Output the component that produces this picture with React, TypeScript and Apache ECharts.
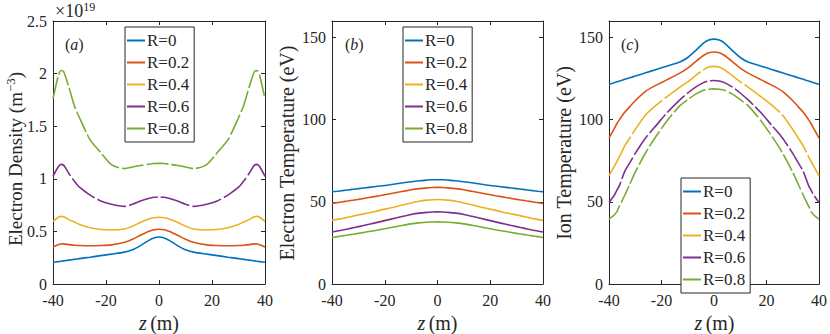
import React, { useEffect, useRef } from "react";
import * as echarts from "echarts";

const Z = [-40, -38, -37, -36, -34, -32, -30, -26, -22, -18, -13, -10, -7, -4, -2, 0, 2, 4, 7, 10, 13, 18, 22, 26, 30, 32, 34, 36, 37, 38, 40];

const NAMES = ["R=0", "R=0.2", "R=0.4", "R=0.6", "R=0.8"];
const COLORS = ["#0072BD", "#D95319", "#EDB120", "#7E2F8E", "#77AC30"];

// (a) electron density, units of 1e19 m^-3
const A_R0 = [0.206, 0.213, 0.216, 0.22, 0.227, 0.234, 0.241, 0.255, 0.27, 0.284, 0.303, 0.325, 0.365, 0.412, 0.437, 0.447, 0.437, 0.412, 0.365, 0.325, 0.303, 0.284, 0.27, 0.255, 0.241, 0.234, 0.227, 0.22, 0.216, 0.213, 0.206];
const A_R2 = [0.352, 0.374, 0.38, 0.381, 0.374, 0.369, 0.366, 0.364, 0.366, 0.372, 0.396, 0.425, 0.463, 0.498, 0.515, 0.521, 0.515, 0.498, 0.463, 0.425, 0.396, 0.372, 0.366, 0.364, 0.366, 0.369, 0.374, 0.381, 0.38, 0.374, 0.352];
const A_R4 = [0.596, 0.635, 0.643, 0.64, 0.612, 0.59, 0.565, 0.535, 0.518, 0.514, 0.523, 0.55, 0.585, 0.615, 0.629, 0.634, 0.629, 0.615, 0.585, 0.55, 0.523, 0.514, 0.518, 0.535, 0.565, 0.59, 0.612, 0.64, 0.643, 0.635, 0.596];
const A_R6 = [1.024, 1.115, 1.137, 1.13, 1.05, 0.98, 0.92, 0.845, 0.79, 0.758, 0.738, 0.758, 0.788, 0.812, 0.824, 0.828, 0.824, 0.812, 0.788, 0.758, 0.738, 0.758, 0.79, 0.845, 0.92, 0.98, 1.05, 1.13, 1.137, 1.115, 1.024];
const A_R8 = [1.76, 1.98, 2.03, 2.02, 1.87, 1.7, 1.58, 1.37, 1.25, 1.135, 1.097, 1.112, 1.126, 1.138, 1.145, 1.147, 1.145, 1.138, 1.126, 1.112, 1.097, 1.135, 1.25, 1.37, 1.58, 1.7, 1.87, 2.02, 2.03, 1.98, 1.76];

// (b) electron temperature, eV
const B_R0 = [56.1, 56.4, 56.6, 56.8, 57.2, 57.6, 58.0, 58.8, 59.6, 60.4, 61.6, 62.2, 62.8, 63.2, 63.4, 63.4, 63.4, 63.2, 62.8, 62.2, 61.6, 60.4, 59.6, 58.8, 58.0, 57.6, 57.2, 56.8, 56.6, 56.4, 56.1];
const B_R2 = [49.0, 49.5, 49.7, 50.0, 50.5, 51.0, 51.5, 52.6, 53.7, 54.9, 56.4, 57.3, 58.0, 58.5, 58.7, 58.8, 58.7, 58.5, 58.0, 57.3, 56.4, 54.9, 53.7, 52.6, 51.5, 51.0, 50.5, 50.0, 49.7, 49.5, 49.0];
const B_R4 = [38.7, 39.3, 39.6, 39.9, 40.6, 41.3, 42.0, 43.3, 44.8, 46.2, 48.2, 49.3, 50.3, 51.0, 51.3, 51.4, 51.3, 51.0, 50.3, 49.3, 48.2, 46.2, 44.8, 43.3, 42.0, 41.3, 40.6, 39.9, 39.6, 39.3, 38.7];
const B_R6 = [31.6, 32.2, 32.5, 32.8, 33.5, 34.2, 34.9, 36.3, 37.8, 39.3, 41.2, 42.3, 43.1, 43.6, 43.8, 43.9, 43.8, 43.6, 43.1, 42.3, 41.2, 39.3, 37.8, 36.3, 34.9, 34.2, 33.5, 32.8, 32.5, 32.2, 31.6];
const B_R8 = [28.3, 28.8, 29.0, 29.3, 29.8, 30.3, 30.8, 31.9, 33.0, 34.2, 35.7, 36.6, 37.2, 37.6, 37.7, 37.8, 37.7, 37.6, 37.2, 36.6, 35.7, 34.2, 33.0, 31.9, 30.8, 30.3, 29.8, 29.3, 29.0, 28.8, 28.3];

// (c) ion temperature, eV
const C_R0 = [121.5, 122.5, 123.0, 123.5, 124.5, 125.5, 126.5, 128.5, 130.5, 132.5, 135.0, 137.8, 142.0, 146.5, 148.4, 149.0, 148.4, 146.5, 142.0, 137.8, 135.0, 132.5, 130.5, 128.5, 126.5, 125.5, 124.5, 123.5, 123.0, 122.5, 121.5];
const C_R2 = [88.8, 94.5, 97.5, 100.0, 104.5, 108.0, 111.5, 117.3, 121.0, 124.2, 128.3, 131.3, 135.3, 139.0, 140.7, 141.1, 140.7, 139.0, 135.3, 131.3, 128.3, 124.2, 121.0, 117.3, 111.5, 108.0, 104.5, 100.0, 97.5, 94.5, 88.8];
const C_R4 = [65.9, 71.5, 74.5, 77.5, 84.0, 89.0, 94.0, 103.0, 108.8, 113.8, 119.8, 123.0, 126.8, 130.3, 132.0, 132.4, 132.0, 130.3, 126.8, 123.0, 119.8, 113.8, 108.8, 103.0, 94.0, 89.0, 84.0, 77.5, 74.5, 71.5, 65.9];
const C_R6 = [49.6, 54.0, 57.0, 60.0, 68.5, 74.0, 79.5, 89.0, 96.5, 104.0, 112.0, 116.2, 119.8, 122.5, 123.5, 123.8, 123.5, 122.5, 119.8, 116.2, 112.0, 104.0, 96.5, 89.0, 79.5, 74.0, 68.5, 60.0, 57.0, 54.0, 49.6];
const C_R8 = [39.5, 42.0, 44.0, 47.5, 54.0, 61.0, 68.0, 80.0, 90.0, 99.0, 108.5, 112.2, 115.5, 117.8, 118.5, 118.7, 118.5, 117.8, 115.5, 112.2, 108.5, 99.0, 90.0, 80.0, 68.0, 61.0, 54.0, 47.5, 44.0, 42.0, 39.5];

const X_TICKS = { min: -40, max: 40, interval: 20 };
const Y_A = { min: 0, max: 2.5, interval: 0.5 };
const Y_BC = { min: 0, max: 160, interval: 50 };

const PANELS = [
  { data: [A_R0, A_R2, A_R4, A_R6, A_R8], y: Y_A, dashes: [null, null, null, [30, 3], [22, 3]] },
  { data: [B_R0, B_R2, B_R4, B_R6, B_R8], y: Y_BC, dashes: [null, null, null, null, null] },
  { data: [C_R0, C_R2, C_R4, C_R6, C_R8], y: Y_BC, dashes: [null, null, [45, 3], [24, 3], [18, 3]] },
];

const FONT = "Liberation Serif";
const INK = "#262626";

export default function App() {
  const ref = useRef<HTMLDivElement>(null);
  useEffect(() => {
    if (!ref.current) return;
    const chart = echarts.init(ref.current, null, { renderer: "svg" });
    const grids = [
      { left: 53, top: 21, width: 212, height: 263 },
      { left: 332, top: 21, width: 211, height: 263 },
      { left: 609, top: 21, width: 211, height: 263 },
    ];
    const axisLine = { show: true, onZero: false, lineStyle: { color: INK, width: 1 } };
    const axisTick = { show: true, inside: true, length: 4, lineStyle: { color: INK } };
    const xAxis: any[] = [];
    const yAxis: any[] = [];
    PANELS.forEach((p, i) => {
      xAxis.push({
        type: "value", gridIndex: i, position: "bottom", ...X_TICKS,
        axisLine, axisTick, splitLine: { show: false },
        axisLabel: { fontFamily: FONT, fontSize: 16, color: INK, margin: 8 },
      });
      xAxis.push({
        type: "value", gridIndex: i, position: "top", ...X_TICKS,
        axisLine, axisTick, splitLine: { show: false }, axisLabel: { show: false },
      });
      yAxis.push({
        type: "value", gridIndex: i, position: "left", ...p.y,
        axisLine, axisTick, splitLine: { show: false },
        axisLabel: {
          fontFamily: FONT, fontSize: 16, color: INK, margin: 6,
          formatter: (v: number) => (p.y.max === 160 && v > 150 ? "" : String(v)),
        },
      });
      yAxis.push({
        type: "value", gridIndex: i, position: "right", ...p.y,
        axisLine, axisTick, splitLine: { show: false }, axisLabel: { show: false },
      });
    });
    const series: any[] = [];
    PANELS.forEach((p, i) => {
      p.data.forEach((vals, k) => {
        series.push({
          type: "line", name: NAMES[k], xAxisIndex: 2 * i, yAxisIndex: 2 * i,
          data: Z.map((z, j) => [z, vals[j]]),
          symbol: "none", showSymbol: false, smooth: 0.25,
          itemStyle: { color: COLORS[k] },
          lineStyle: { color: COLORS[k], width: 1.6, type: p.dashes[k] || "solid" },
        });
      });
    });
    const legendBase = {
      data: NAMES, orient: "vertical", selectedMode: false,
      icon: "path://M0,0 L18,0 L18,2 L0,2 Z",
      itemWidth: 18, itemHeight: 14, itemGap: 5,
      padding: [5, 5, 5, 2],
      backgroundColor: "#ffffff", borderColor: INK, borderWidth: 1, borderRadius: 0,
      textStyle: { fontFamily: FONT, fontSize: 17, color: INK, lineHeight: 14, padding: [0, 0, 0, -3] },
    };
    const legend = [
      { ...legendBase, left: 125, top: 27 },
      { ...legendBase, left: 403, top: 27 },
      { ...legendBase, left: 681, top: 178 },
    ];
    const titleStyle = (text: string) => ({
      text, fontFamily: FONT, fontSize: 20, fill: INK, align: "center", verticalAlign: "middle",
    });
    const graphic: any[] = [
      {
        type: "text", x: 15, y: 159, rotation: Math.PI / 2,
        style: {
          text: "{n|Electron Density (m}{s|−3}{n|)}",
          align: "center", verticalAlign: "middle", fill: INK,
          rich: {
            n: { fontFamily: FONT, fontSize: 19, lineHeight: 22, fill: INK },
            s: { fontFamily: FONT, fontSize: 13, lineHeight: 22, fill: INK, verticalAlign: "top", padding: [0, 0, 8, 0] },
          },
        },
      },
      { type: "text", x: 287, y: 153, rotation: Math.PI / 2, style: titleStyle("Electron Temperature (eV)") },
      { type: "text", x: 564, y: 153, rotation: Math.PI / 2, style: titleStyle("Ion Temperature (eV)") },
      ...[159, 437.5, 714.5].map((cx) => ({
        type: "text", x: cx, y: 323,
        style: {
          text: "{i|z} {n|(m)}", align: "center", verticalAlign: "middle", fill: INK,
          rich: {
            i: { fontFamily: FONT, fontStyle: "italic", fontSize: 20, fill: INK },
            n: { fontFamily: FONT, fontSize: 20, fill: INK },
          },
        },
      })),
      ...[["a", 65], ["b", 345], ["c", 621]].map(([l, x]) => ({
        type: "text", x: x as number, y: 44,
        style: {
          text: "{n|(}{i|" + l + "}{n|)}", align: "left", verticalAlign: "middle", fill: INK,
          rich: {
            i: { fontFamily: FONT, fontStyle: "italic", fontSize: 16, fill: INK },
            n: { fontFamily: FONT, fontSize: 16, fill: INK },
          },
        },
      })),
      {
        type: "text", x: 55, y: 11,
        style: {
          text: "{n|×10}{s|19}", align: "left", verticalAlign: "middle", fill: INK,
          rich: {
            n: { fontFamily: FONT, fontSize: 18, lineHeight: 20, fill: INK },
            s: { fontFamily: FONT, fontSize: 12, lineHeight: 20, fill: INK, verticalAlign: "top", padding: [0, 0, 7, 0] },
          },
        },
      },
    ];
    chart.setOption({
      animation: false,
      color: COLORS,
      textStyle: { fontFamily: FONT },
      grid: grids,
      xAxis,
      yAxis,
      legend,
      series,
      graphic,
    });
    return () => chart.dispose();
  }, []);
  return <div ref={ref} style={{ width: 830, height: 334, position: "absolute", left: 0, top: 0, background: "#fff" }} />;
}
